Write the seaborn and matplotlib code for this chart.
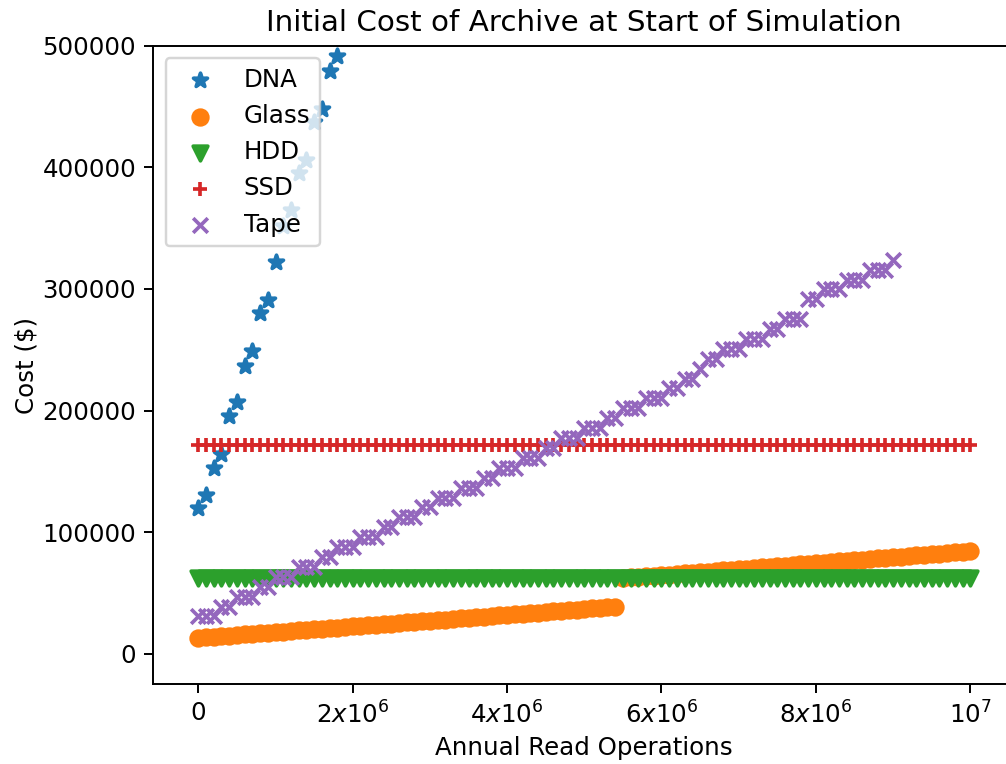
import numpy as np
import matplotlib
matplotlib.use("Agg")
import matplotlib.pyplot as plt
import seaborn as sns

# Annual read operations, sampled every 100k reads
reads = np.linspace(0, 1e7, 101)

# Cost of each storage medium (thousands of dollars) at each read rate
dna_cost_k = [120.3, 130.8, 152.7, 164.5, 195.2, 206.7, 236.8, 249.2, 280.2, 291.1,
              322.6, 351.4, 365.1, 395.3, 406.3, 437.3, 447.9, 478.9, 491.8]

glass_cost_k = [13.0, 13.5, 14.0, 14.4, 14.9, 15.4, 15.9, 16.3, 16.8, 17.3,
                17.8, 18.2, 18.7, 19.2, 19.7, 20.1, 20.6, 21.1, 21.6, 22.0,
                22.5, 23.0, 23.5, 23.9, 24.4, 24.9, 25.4, 25.9, 26.3, 26.8,
                27.3, 27.8, 28.2, 28.7, 29.2, 29.7, 30.1, 30.6, 31.1, 31.6,
                32.0, 32.5, 33.0, 33.5, 33.9, 34.4, 34.9, 35.4, 35.8, 36.3,
                36.8, 37.3, 37.8, 38.2, 38.7,
                62.3, 62.8, 63.3, 63.8, 64.3, 64.8, 65.2, 65.7, 66.2, 66.7,
                67.2, 67.7, 68.2, 68.7, 69.2, 69.7, 70.1, 70.6, 71.1, 71.6,
                72.1, 72.6, 73.1, 73.6, 74.1, 74.6, 75.0, 75.5, 76.0, 76.5,
                77.0, 77.5, 78.0, 78.5, 79.0, 79.5, 79.9, 80.4, 80.9, 81.4,
                81.9, 82.4, 82.9, 83.4, 83.9, 84.4]

hdd_cost_k = [62.5] * 101

ssd_cost_k = [172.0] * 101

tape_cost_k = [30.7, 30.7, 30.7, 38.9, 38.9, 47.0, 47.0, 47.0, 55.2, 55.2,
               63.3, 63.3, 63.3, 71.5, 71.5, 71.5, 79.6, 79.6, 87.8, 87.8,
               87.8, 95.9, 95.9, 95.9, 104.1, 104.1, 112.2, 112.2, 112.2, 120.4,
               120.4, 128.5, 128.5, 128.5, 136.7, 136.7, 136.7, 144.8, 144.8, 153.0,
               153.0, 153.0, 161.1, 161.1, 161.1, 169.3, 169.3, 177.4, 177.4, 177.4,
               185.6, 185.6, 185.6, 193.7, 193.7, 201.9, 201.9, 201.9, 210.0, 210.0,
               210.0, 218.2, 218.2, 226.3, 226.3, 234.5, 242.6, 242.6, 250.8, 250.8,
               250.8, 258.9, 258.9, 258.9, 267.1, 267.1, 275.2, 275.2, 275.2, 291.5,
               291.5, 299.7, 299.7, 299.7, 307.8, 307.8, 307.8, 316.0, 316.0, 316.0,
               324.1]

media = ["DNA", "Glass", "HDD", "SSD", "Tape"]
markers = ["*", "o", "v", "+", "x"]
costs_k = [dna_cost_k, glass_cost_k, hdd_cost_k, ssd_cost_k, tape_cost_k]

xtick_values = [0, 2e6, 4e6, 6e6, 8e6, 1e7]
xtick_labels = ["0", r"$2x10^6$", r"$4x10^6$", r"$6x10^6$", r"$8x10^6$", r"$10^7$"]
ytick_values = [0, 100000, 200000, 300000, 400000, 500000]

plt.rcParams["font.family"] = ["DejaVu Sans"]
plt.rcParams["font.size"] = 10

DPI = 176
fig = plt.figure(figsize=(1006 / DPI, 764 / DPI), dpi=DPI)
ax = fig.add_axes([0.1524, 0.1044, 0.8566, 0.8357])

palette = sns.color_palette("tab10")
for i, (name, mk, vals) in enumerate(zip(media, markers, costs_k)):
    y = np.asarray(vals) * 1000
    x = reads[: len(y)]
    kw = dict(x=x, y=y, marker=mk, s=36, linewidth=1.5,
              color=palette[i], label=name, ax=ax)
    if mk not in ("+", "x"):
        kw["edgecolor"] = "face"
    sns.scatterplot(**kw)

ax.set_xlim(-0.583e6, 1.058e7)
ax.set_ylim(-25000, 500000)
ax.set_xticks(xtick_values)
ax.set_xticklabels(xtick_labels)
ax.set_yticks(ytick_values)
ax.set_yticklabels([str(v) for v in ytick_values])

ax.set_title("Initial Cost of Archive at Start of Simulation", fontsize=12)
ax.set_xlabel("Annual Read Operations", labelpad=3)
ax.set_ylabel("Cost ($)", labelpad=1.5)
ax.legend(loc="upper left")

fig.savefig("out.png", dpi=DPI)
